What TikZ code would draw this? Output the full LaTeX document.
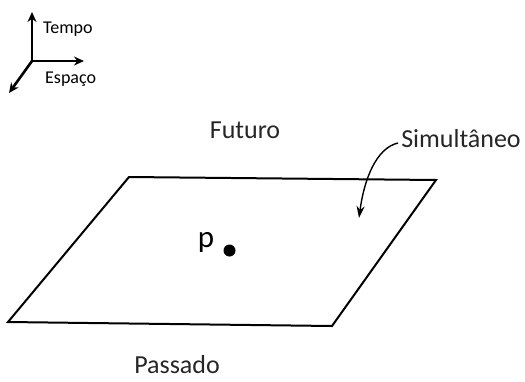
\documentclass[tikz,border=0pt]{standalone}
\usepackage{fontspec}
\setmainfont{Carlito}
\usetikzlibrary{arrows.meta}
\begin{document}
\begin{tikzpicture}[x=1pt,y=-1pt,
  lbl/.style={font=\fontsize{26}{26}\selectfont, text=black!85, inner sep=0pt, anchor=base},
  small/.style={font=\fontsize{18}{18}\selectfont, inner sep=0pt, anchor=base west},
  ax/.style={line width=2.6pt, -{Stealth[length=10pt,width=9pt]}},
  edge/.style={line width=2pt, line join=miter}]
\useasboundingbox (0,0) rectangle (525,381);
% axes
\coordinate (o) at (32,61);
\coordinate (t) at (32,12);
\coordinate (s) at (84,61);
\coordinate (d) at (9,93);
\draw[ax] (o) -- (t);
\draw[ax] (o) -- (s);
\draw[ax] (o) -- (d);
\node[small] (tempo) at (43,33) {Tempo};
\node[small] (espaco) at (45,83) {Espaço};
% plane
\coordinate (a) at (129,177);
\coordinate (b) at (436,180);
\coordinate (c) at (332,326);
\coordinate (e) at (8,322);
\draw[edge] (a) -- (b) -- (c) -- (e) -- cycle;
% labels
\node[lbl] (fut) at (245,138) {Futuro};
\node[lbl] (sim) at (461,147) {Simultâneo};
\node[lbl] (pas) at (177,373) {Passado};
\node[font=\fontsize{31}{31}\selectfont, inner sep=0pt, anchor=base] (plabel) at (206,247) {p};
\node[circle, fill=black, inner sep=0pt, minimum size=12pt] (pt) at (229.5,250.5) {};
\coordinate (start) at (398,143);
\coordinate (tip) at (359,218);
\draw[line width=1.4pt, -{Stealth[length=12pt,width=8pt]}] (start) .. controls (376,148) and (364,180) .. (tip);
\end{tikzpicture}
\end{document}
